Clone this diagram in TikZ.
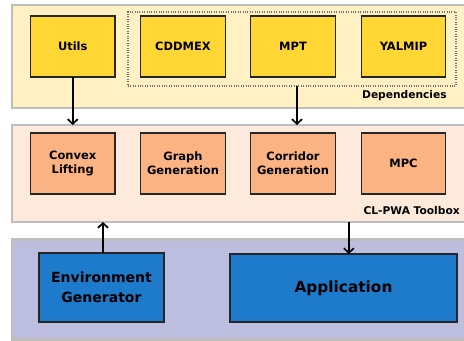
\documentclass[tikz,border=0pt]{standalone}
\usepackage{fontspec}
\setmainfont{DejaVu Sans}
\usetikzlibrary{arrows.meta}
\definecolor{depback}{HTML}{FFF1C4}
\definecolor{depbox}{HTML}{FFD633}
\definecolor{tlback}{HTML}{FDEADC}
\definecolor{tlbox}{HTML}{FBB383}
\definecolor{envback}{HTML}{BDBDDF}
\definecolor{envbox}{HTML}{1E7ACA}
\definecolor{rim}{HTML}{BEBEBE}
\tikzstyle{panel}=[draw=rim, line width=2.2pt, inner sep=0pt, outer sep=0pt, minimum width=348pt]
\tikzstyle{module}=[draw=black!85, line width=1pt, inner sep=0pt, outer sep=0pt, minimum width=63.4pt, minimum height=45.75pt, align=center, font=\bfseries\fontsize{8.6}{10.7}\selectfont]
\tikzstyle{tag}=[anchor=east, inner sep=0pt, font=\bfseries\fontsize{8}{10}\selectfont]
\tikzstyle{link}=[line width=1.25pt, -{Straight Barb[length=3.5pt,width=7.5pt]}]

\begin{document}
\begin{tikzpicture}[x=0.75pt, y=-0.75pt]
    \useasboundingbox (0,0) rectangle (464,341);
    \clip (0,0) rectangle (464,341);
% Layers
    \node[panel, fill=depback, minimum height=77.25pt] (deps) at (244,56.5) {};
    \node[panel, fill=tlback, minimum height=72.75pt] (toolbox) at (244,173.5) {};
    \node[panel, fill=envback, minimum height=75pt] (env) at (244,289.5) {};
% Dependencies
    \node[draw=black!55, densely dotted, line width=0.8pt, minimum width=246pt, minimum height=55.5pt, inner sep=0pt, outer sep=0pt] (extdeps) at (292,49) {};
    \node[module, fill=depbox] (utils) at (72.75,46.5) {Utils};
    \node[module, fill=depbox] (cddmex) at (183,46.5) {CDDMEX};
    \node[module, fill=depbox] (mpt) at (293,46.5) {MPT};
    \node[module, fill=depbox] (yalmip) at (403.5,46.5) {YALMIP};
    \node[tag] (deplabel) at (447,96) {Dependencies};
% Toolbox
    \node[module, fill=tlbox] (lifting) at (72.75,163.5) {Convex\\Lifting};
    \node[module, fill=tlbox] (graph) at (183,163.5) {Graph\\Generation};
    \node[module, fill=tlbox] (corridor) at (293,163.5) {Corridor\\Generation};
    \node[module, fill=tlbox] (mpc) at (403.5,163.5) {MPC};
    \node[tag] (tllabel) at (460,211) {CL-PWA Toolbox};
% Users of the toolbox
    \node[module, fill=envbox, minimum width=93.75pt, minimum height=51.75pt, font=\bfseries\fontsize{10.5}{15}\selectfont] (envgen) at (101.5,287.5) {Environment\\Generator};
    \node[module, fill=envbox, minimum width=170.25pt, minimum height=51pt, font=\bfseries\fontsize{11.5}{14}\selectfont] (app) at (343.5,288) {Application};
% Links
    \draw[link] (utils.south) -- (utils.south |- toolbox.north);
    \draw[link] ([xshift=3pt]mpt.south |- extdeps.south) -- ([xshift=3pt]mpt.south |- toolbox.north);
    \draw[link] ([xshift=1.1pt]envgen.north) -- ([xshift=1.1pt]envgen.north |- toolbox.south);
    \draw[link] ([xshift=4pt]app.north |- toolbox.south) -- ([xshift=4pt]app.north);
\end{tikzpicture}
\end{document}
